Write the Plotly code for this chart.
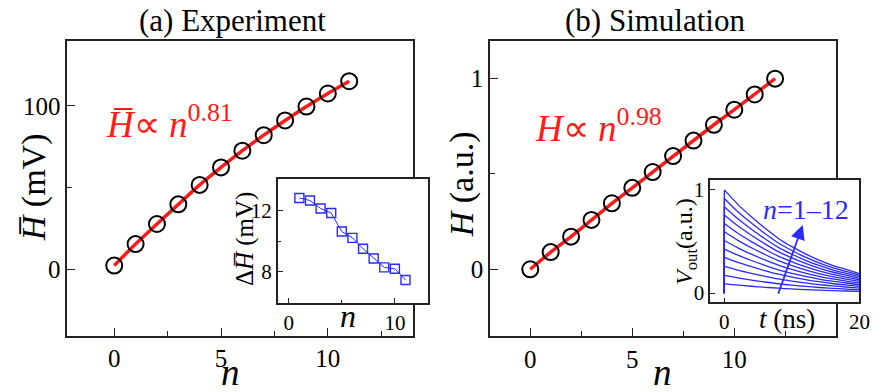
import plotly.graph_objects as go

# ---------------- data ----------------
n_exp = [0, 1, 2, 3, 4, 5, 6, 7, 8, 9, 10, 11]
H_exp = [2.4, 15.5, 27.8, 39.8, 51.7, 62.4, 72.6, 82.1, 91.1, 99.6, 107.6, 115.1]

n_dH = [1, 2, 3, 4, 5, 6, 7, 8, 9, 10, 11]
dH = [12.81, 12.65, 12.13, 11.83, 10.62, 10.21, 9.5, 8.86, 8.28, 8.19, 7.46]

n_sim = [0, 1, 2, 3, 4, 5, 6, 7, 8, 9, 10, 11, 12]
H_sim = [0.0, 0.09, 0.171, 0.259, 0.346, 0.427, 0.51, 0.594, 0.675, 0.758, 0.837, 0.917, 1.0]

# inset (b): V_out traces, read as peak amplitude x normalised decay profile
t_ns = [0, 2, 4, 6, 8, 10, 12, 14, 16, 18, 20]
decay = [1.0, 0.86, 0.74, 0.63, 0.53, 0.45, 0.38, 0.32, 0.27, 0.23, 0.19]
V_peak = [0.09, 0.171, 0.259, 0.346, 0.427, 0.51, 0.594, 0.675, 0.758, 0.837, 0.917, 1.0]

W, Hh = 881, 392
FONT = '"Liberation Serif", "Times New Roman", Times, serif'
BLUE = "#2a2aff"
RED = "#ff1a1a"
AX = "#222222"


def px(x):
    return x / W


def py(y):
    return 1 - y / Hh


fig = go.Figure()

# (a) main
fig.add_trace(go.Scatter(x=n_exp, y=H_exp, mode="lines", line=dict(color=RED, width=3.5, shape="spline"),
                         xaxis="x", yaxis="y", showlegend=False))
fig.add_trace(go.Scatter(x=n_exp, y=H_exp, mode="markers",
                         marker=dict(symbol="circle-open", size=16, color="black", line=dict(width=2, color="black")),
                         xaxis="x", yaxis="y", showlegend=False))
# (a) inset
fig.add_trace(go.Scatter(x=n_dH, y=dH, mode="lines+markers", line=dict(color=BLUE, width=1),
                         marker=dict(symbol="square-open", size=9, color=BLUE, line=dict(width=1.4, color=BLUE)),
                         xaxis="x2", yaxis="y2", showlegend=False))
# (b) main
fig.add_trace(go.Scatter(x=n_sim, y=H_sim, mode="lines", line=dict(color=RED, width=3.5),
                         xaxis="x3", yaxis="y3", showlegend=False))
fig.add_trace(go.Scatter(x=n_sim, y=H_sim, mode="markers",
                         marker=dict(symbol="circle-open", size=16, color="black", line=dict(width=2, color="black")),
                         xaxis="x3", yaxis="y3", showlegend=False))
# (b) inset: vertical rises at t=0 and decaying tails
vx, vy = [], []
for a in V_peak:
    vx += [0, 0, None]
    vy += [0, a, None]
fig.add_trace(go.Scatter(x=vx, y=vy, mode="lines", line=dict(color=BLUE, width=1.3),
                         xaxis="x4", yaxis="y4", showlegend=False))
for a in V_peak:
    fig.add_trace(go.Scatter(x=t_ns, y=[a * d for d in decay], mode="lines",
                             line=dict(color=BLUE, width=1.3, shape="spline", smoothing=0.8),
                             xaxis="x4", yaxis="y4", showlegend=False))


def axis(domain, rng, major, minor, anchor, size, ticklen=8, minlen=5):
    return dict(domain=domain, range=rng, anchor=anchor, showgrid=False, zeroline=False,
                showline=True, linecolor=AX, linewidth=1.6, mirror=True,
                ticks="inside", ticklen=ticklen, tickwidth=1.3, tickcolor=AX,
                tickmode="array", tickvals=major, ticktext=[str(v) for v in major],
                minor=dict(tickmode="array", tickvals=minor, ticks="inside", ticklen=minlen, tickwidth=1.3,
                           tickcolor=AX, showgrid=False),
                tickfont=dict(family=FONT, size=size, color="black"), fixedrange=True)


xa = axis([px(68), px(418)], [-2.2, 14.0], [0, 5, 10], [2.5, 7.5, 12.5], "y", 25)
ya = axis([py(338), py(39)], [-40.5, 140], [0, 100], [50], "x", 25)
xa2 = axis([px(281), px(432.7)], [-1.03, 13.1], [0, 10], [5], "y2", 21, 5, 3)
ya2 = axis([py(305), py(179.3)], [5.95, 14.05], [8, 12], [10], "x2", 21, 5, 3)
xa3 = axis([px(495.7), px(845.3)], [-1.97, 14.97], [0, 5, 10], [2.5, 7.5, 12.5], "y3", 25)
ya3 = axis([py(338.3), py(39)], [-0.35, 1.2], [0, 1], [0.5], "x3", 25)
xa4 = axis([px(718.3), px(869.3)], [-2.1, 20.0], [0, 20], [], "y4", 21, 5, 3)
ya4 = axis([py(304.3), py(180.3)], [-0.09, 1.096], [0, 1], [], "x4", 21, 5, 3)

ann = []


def text(x, y, s, size, color="black", angle=0, xanchor="center", yanchor="middle"):
    ann.append(dict(xref="paper", yref="paper", x=px(x), y=py(y), text=s, showarrow=False,
                    font=dict(family=FONT, size=size, color=color), textangle=angle,
                    xanchor=xanchor, yanchor=yanchor))


text(235, 19, "(a) Experiment", 31)
text(663, 19, "(b) Simulation", 31)
text(34, 188, "<i>H\u0305</i> (mV)", 34, angle=-90)
text(233, 375, "<i>n</i>", 37)
text(467, 185, "<i>H</i> (a.u.)", 34, angle=-90)
text(670, 375, "<i>n</i>", 37)
text(105, 121, "<i>H\u0305</i>\u221d <i>n</i><sup>0.81</sup>", 37, color=RED, xanchor="left")
text(539, 125, "<i>H</i>\u221d <i>n</i><sup>0.98</sup>", 37, color=RED, xanchor="left")
text(248, 240, "\u0394<i>H\u0305</i> (mV)", 25, angle=-90)
text(352, 318, "<i>n</i>", 32)
text(694, 243, "<i>V</i><sub>out</sub>(a.u.)", 24, angle=-90)
text(796, 321, "<i>t</i> (ns)", 27)
text(815, 210, "<i>n</i>=1\u201312", 28, color=BLUE)

ann.append(dict(xref="x4", yref="y4", axref="x4", ayref="y4", x=11.6, y=0.66, ax=7.9, ay=-0.02,
                showarrow=True, arrowhead=2, arrowsize=1.6, arrowwidth=1.8, arrowcolor=BLUE, text=""))

fig.update_layout(
    width=W, height=Hh, margin=dict(l=0, r=0, t=0, b=0),
    paper_bgcolor="#ffffff", plot_bgcolor="#fffffe",
    font=dict(family=FONT),
    xaxis=xa, yaxis=ya, xaxis2=xa2, yaxis2=ya2, xaxis3=xa3, yaxis3=ya3, xaxis4=xa4, yaxis4=ya4,
    annotations=ann, showlegend=False,
)

fig.write_html("out.html")
